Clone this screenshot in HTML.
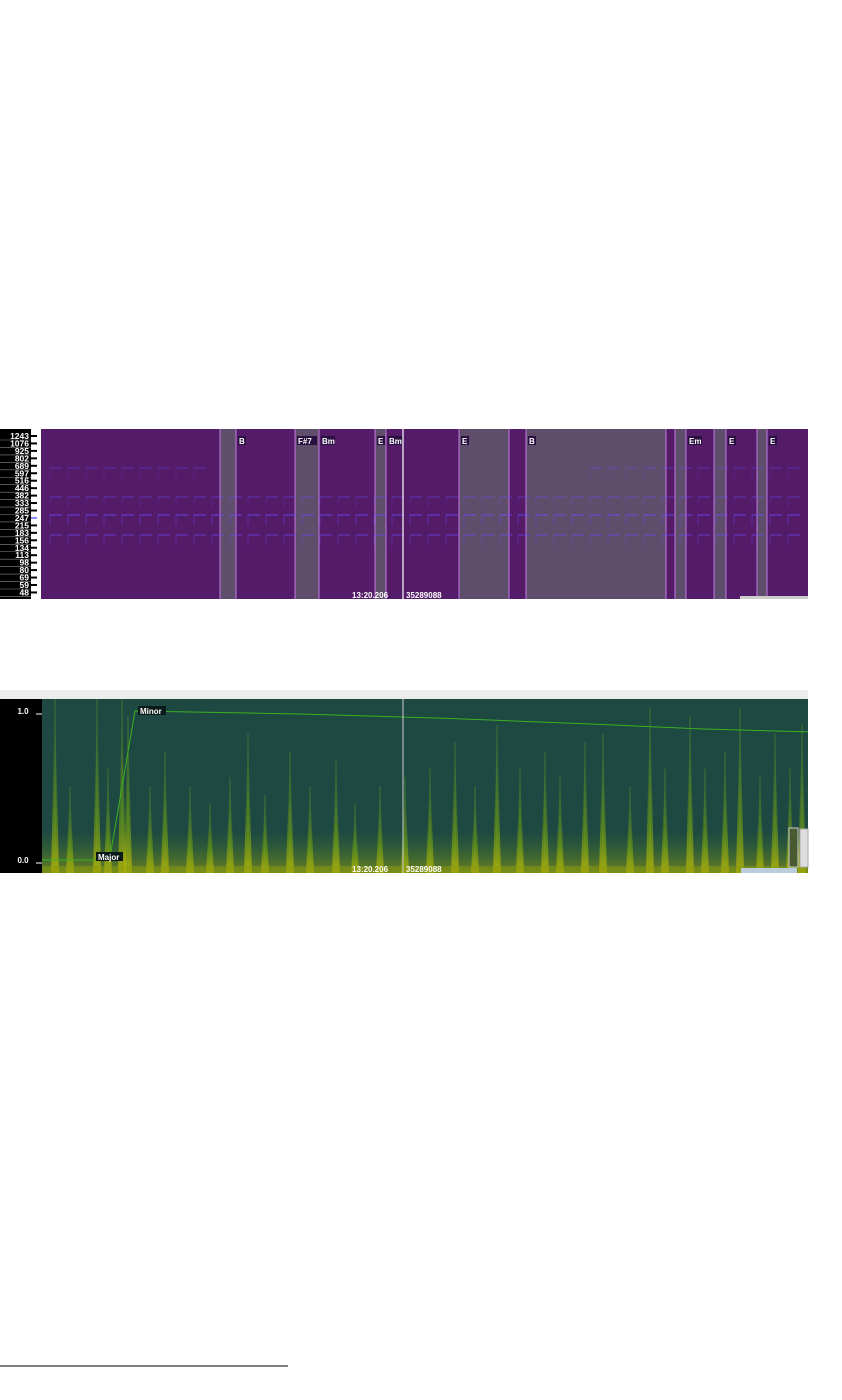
<!DOCTYPE html>
<html><head><meta charset="utf-8">
<style>
body{margin:0;background:#fff;width:842px;height:1400px;position:relative;overflow:hidden;font-family:"Liberation Sans",sans-serif}
svg{position:absolute;left:0;top:0}
text{font-family:"Liberation Sans",sans-serif;font-weight:bold}
</style></head><body>
<svg id="s" width="842" height="1400"></svg>
<script>
const freqLabels=["1243","1076","925","802","689","597","516","446","382","333","285","247","215","183","156","134","113","98","80","69","59","48"];
const segStarts=[41,220,236,295,319,375,386,403,459,509,526,666,675,686,714,726,757,767];
const segShaded=[0,1,0,1,0,1,0,0,1,0,1,0,1,0,1,0,1,0];
const chordNames=["","","B","F#7","Bm","E","Bm","","E","","B","","","Em","","E","","E"];
const chordShown=[0,0,1,1,1,1,1,0,1,0,1,0,0,1,0,1,0,1];
const onsetX=[55,70,97,108,122,128,150,165,190,210,230,248,265,290,310,336,355,380,405,430,455,475,497,520,545,560,585,603,630,650,665,690,705,725,740,760,775,790,802];
const onsetH=[1.0,0.5,1.0,0.6,1.0,0.9,0.5,0.7,0.5,0.4,0.55,0.8,0.45,0.7,0.5,0.65,0.4,0.5,0.55,0.6,0.75,0.5,0.85,0.6,0.7,0.55,0.75,0.8,0.5,0.95,0.6,0.9,0.6,0.7,0.95,0.55,0.8,0.6,0.85];
const modeX=[42,105,110,135,300,450,600,700,808];
const modeV=[0.0,0.0,0.02,1.0,0.98,0.95,0.91,0.88,0.86];
const s=document.getElementById('s');const NS='http://www.w3.org/2000/svg';
function el(t,a,p){const e=document.createElementNS(NS,t);for(const k in a)e.setAttribute(k,a[k]);(p||s).appendChild(e);return e;}
const T0=429,T1=599,X1=808;
let g=el('g',{});
let r=el('rect',{x:0,y:T0,width:31,height:T1-T0,fill:'#000'},g);
el('rect',{x:31,y:T0,width:10,height:T1-T0,fill:'#fff'},g);
freqLabels.forEach((f,i)=>{const y=436+i*7.45;
 const t=el('text',{x:29,y:y+3,'font-size':8.5,fill:'#fff','text-anchor':'end'},g);t.textContent=f;
 
 el('line',{x1:0,x2:31,y1:y+4,y2:y+4,stroke:'#888','stroke-width':0.6},g);
 el('rect',{x:31,y:y-1,width:6,height:2,fill:(i==11?'#88f':'#000')},g);});
segStarts.forEach((x0,i)=>{const x1=i+1<segStarts.length?segStarts[i+1]:X1;
 const rr=el('rect',{x:x0,y:T0,width:x1-x0,height:T1-T0,fill:segShaded[i]?'#5f4e6b':'#541b69'},g);
 
 if(i>0)el('line',{x1:x0,x2:x0,y1:T0,y2:T1,stroke:'#c27ae0','stroke-width':1},g);
 if(chordShown[i]){const w=chordNames[i].length*6+2;el('rect',{x:x0+2,y:436,width:w,height:9,fill:'#2a1040'},g);
  const t=el('text',{x:x0+3,y:444,'font-size':8,fill:'#fff'},g);t.textContent=chordNames[i];
  }});
[[468,0.3],[515,0.55],[535,0.45],[497,0.35]].forEach(([y,o])=>{for(let x=50;x<806;x+=18){if(y==468&&x>200&&x<590)continue;
 el('line',{x1:x,x2:x+12,y1:y,y2:y,stroke:'#6a4cff','stroke-opacity':o,'stroke-width':1.5},g);
 el('line',{x1:x,x2:x,y1:y,y2:y+10,stroke:'#6a4cff','stroke-opacity':o*0.7,'stroke-width':1},g);}});
el('line',{x1:403,x2:403,y1:T0,y2:T1,stroke:'#fff','stroke-width':1.2},g);
let t1=el('text',{x:352,y:598,'font-size':8,fill:'#fff'},g);t1.textContent='13:20.206';
let t2=el('text',{x:406,y:598,'font-size':8,fill:'#fff'},g);t2.textContent='35289088';
el('rect',{x:740,y:596,width:68,height:3,fill:'#ccc'},g);
const B0=699,B1=873,BX=42;
let h=el('g',{});
el('rect',{x:0,y:690,width:808,height:9,fill:'#ececec'},h);
el('rect',{x:0,y:B0,width:BX,height:B1-B0,fill:'#000'},h);
el('rect',{x:BX,y:B0,width:X1-BX,height:B1-B0,fill:'#1e4842'},h);
const d=el('defs',{},h);const lg=el('linearGradient',{id:'sp',x1:0,y1:1,x2:0,y2:0},d);
el('stop',{offset:0,'stop-color':'#d8c800'},lg);el('stop',{offset:0.3,'stop-color':'#70a010'},lg);el('stop',{offset:1,'stop-color':'#3a7a2a','stop-opacity':0.1},lg);
const bg=el('linearGradient',{id:'bb',x1:0,y1:1,x2:0,y2:0},d);
el('stop',{offset:0,'stop-color':'#8a9a10','stop-opacity':0.7},bg);el('stop',{offset:1,'stop-color':'#3a7a2a','stop-opacity':0},bg);
el('rect',{x:BX,y:830,width:X1-BX,height:43,fill:'url(#bb)'},h);
const vy=v=>860-v*(860-711);
onsetX.forEach((x,i)=>{const top=B1-onsetH[i]*(B1-B0);
 const p=el('polygon',{points:`${x-4},${B1} ${x},${top} ${x+4},${B1}`,fill:'url(#sp)','fill-opacity':0.6},h);
 
 el('line',{x1:x,x2:x,y1:top,y2:B1,stroke:'#7ab020','stroke-width':0.8,'stroke-opacity':0.5},h);});
el('rect',{x:BX,y:866,width:X1-BX,height:7,fill:'#8a9a10','fill-opacity':0.5},h);
const pl=el('polyline',{points:modeX.map((x,i)=>x+','+vy(modeV[i])).join(' '),fill:'none',stroke:'#3cb020','stroke-width':1},h);

[[1,'1.0'],[0,'0.0']].forEach(([v,l])=>{const t=el('text',{x:23,y:vy(v)+3,'font-size':8,fill:'#fff','text-anchor':'middle'},h);t.textContent=l;
 
 el('line',{x1:36,x2:42,y1:vy(v)+3,y2:vy(v)+3,stroke:'#fff'},h);});
el('rect',{x:138,y:706,width:28,height:9,fill:'#0a1a18'},h);
let m1=el('text',{x:140,y:714,'font-size':8,fill:'#fff'},h);m1.textContent='Minor';
el('rect',{x:96,y:852,width:27,height:9,fill:'#0a1a18'},h);
let m2=el('text',{x:98,y:860,'font-size':8,fill:'#fff'},h);m2.textContent='Major';
el('line',{x1:403,x2:403,y1:B0,y2:B1,stroke:'#ccc','stroke-width':1},h);
let t3=el('text',{x:352,y:872,'font-size':8,fill:'#fff'},h);t3.textContent='13:20.206';
let t4=el('text',{x:406,y:872,'font-size':8,fill:'#fff'},h);t4.textContent='35289088';
el('rect',{x:789,y:828,width:9,height:39,fill:'#4a5a30',stroke:'#ccc'},h);
el('rect',{x:800,y:829,width:8,height:38,fill:'#ddd',stroke:'#aaa'},h);
el('rect',{x:741,y:868,width:56,height:5,fill:'#bcd'},h);
el('line',{x1:0,x2:288,y1:1366,y2:1366,stroke:'#000','stroke-width':1});
</script></body></html>
